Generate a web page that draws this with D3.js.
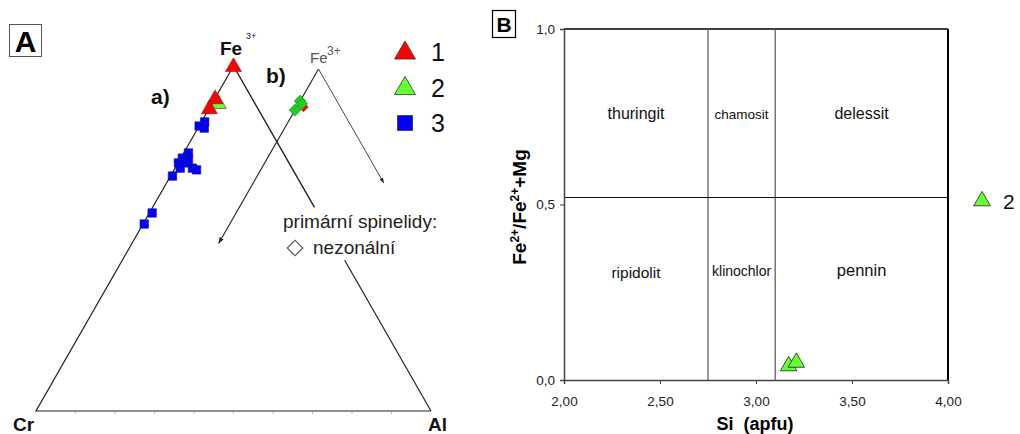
<!DOCTYPE html>
<html>
<head>
<meta charset="utf-8">
<script src="https://cdn.jsdelivr.net/npm/d3@7/dist/d3.min.js"></script>
<style>
  html, body { margin: 0; padding: 0; background: #fff; }
  svg { display: block; font-family: "Liberation Sans", Arial, Helvetica, sans-serif; }
</style>
</head>
<body>
<svg id="chart" width="1020" height="434"></svg>
<script>
// ---- Panel A: spinel ternary Fe3+ – Cr – Al (fractions of Fe3+ and Al; Cr is the remainder)
const seriesNames = ["1", "2", "3"];
const seriesColors = ["#ff0000", "#66ff33", "#0000ff"];

// a) full triangle
const a1Fe = [1.000, 0.907, 0.878];
const a1Al = [0.000, 0.000, 0.000];
const a2Fe = [0.893];
const a2Al = [0.015];
const a3Fe = [0.826, 0.838, 0.820, 0.733, 0.748, 0.719, 0.719, 0.728, 0.704, 0.699, 0.704, 0.681, 0.574, 0.542];
const a3Al = [0.000, 0.008, 0.016, 0.004, 0.012, 0.001, 0.019, 0.022, 0.044, 0.057, 0.013, 0.005, 0.007, 0.003];

// b) second triangle (primary spinels)
const b1Fe = [0.890];
const b1Al = [0.017];
const b2Fe = [0.907, 0.899, 0.881];
const b2Al = [0.000, 0.008, 0.000];

const baseTicks = d3.range(1, 10).map(d => d / 10);

// ---- Panel B: chlorite classification, Si (apfu) vs Fe2+/(Fe2++Mg)
const siValues = [3.17, 3.21];
const feRatio = [0.04, 0.05];
const xTicks = [2.0, 2.5, 3.0, 3.5, 4.0];
const yTicks = [0.0, 0.5, 1.0];
const siBounds = [2.75, 3.10];
const ratioBound = 0.52;
const fields = [
  { name: "thuringit", x0: 2.00, x1: 2.75, y: 0.745, size: 16 },
  { name: "chamosit", x0: 2.75, x1: 3.10, y: 0.745, size: 13.5 },
  { name: "delessit", x0: 3.10, x1: 4.00, y: 0.745, size: 16 },
  { name: "ripidolit", x0: 2.00, x1: 2.75, y: 0.29, size: 15.5 },
  { name: "klinochlor", x0: 2.75, x1: 3.10, y: 0.295, size: 14 },
  { name: "pennin", x0: 3.10, x1: 4.00, y: 0.295, size: 16.5 }
];

const svg = d3.select("#chart");

svg.append("defs").append("marker")
  .attr("id", "arrow").attr("viewBox", "0 0 10 10")
  .attr("refX", 9).attr("refY", 5)
  .attr("markerWidth", 6).attr("markerHeight", 6)
  .attr("orient", "auto")
  .append("path").attr("d", "M0,1.5L10,5L0,8.5Z").attr("fill", "#222");

// ===================== Panel A =====================
const gA = svg.append("g");

// panel letter
gA.append("rect").attr("x", 9.5).attr("y", 24.5).attr("width", 32).attr("height", 32)
  .attr("fill", "none").attr("stroke", "#555").attr("stroke-width", 1);
gA.append("text").attr("x", 25.5).attr("y", 52).attr("text-anchor", "middle")
  .attr("font-size", 30).attr("font-weight", "bold").text("A");

// ternary projections: horizontal scale along the base, vertical scale for Fe3+
function ternary(xBase, yFe) {
  return (fe, al) => [xBase(al + fe / 2), yFe(fe)];
}
const xBaseA = d3.scaleLinear().domain([0, 1]).range([36, 431]);
const yFeA = d3.scaleLinear().domain([0, 1]).range([411, 66]);
const projA = ternary(xBaseA, yFeA);

const xBaseB = d3.scaleLinear().domain([0, 1]).range([121, 516]);
const yFeB = d3.scaleLinear().domain([0, 1]).range([414, 69]);
const projB = ternary(xBaseB, yFeB);

const line = d3.line();

// triangle a) : left side, base, and right side split around the label
gA.append("path").attr("d", line([projA(1, 0), projA(0, 0), projA(0, 1)]))
  .attr("fill", "none").attr("stroke", "#222").attr("stroke-width", 1.2);
gA.append("path").attr("d", line([projA(1, 0), projA(0.59, 0.41)]))
  .attr("fill", "none").attr("stroke", "#222").attr("stroke-width", 1.4);
gA.append("path").attr("d", line([projA(0.437, 0.563), projA(0, 1)]))
  .attr("fill", "none").attr("stroke", "#222").attr("stroke-width", 1.2);

// small ticks on the base
gA.selectAll(".btick").data(baseTicks).enter().append("line")
  .attr("x1", d => projA(0, d)[0]).attr("x2", d => projA(0, d)[0])
  .attr("y1", yFeA(0) + 1).attr("y2", yFeA(0) + 3)
  .attr("stroke", "#bbb").attr("stroke-width", 1);

// triangle b) : two sides ending in arrows
gA.append("path").attr("d", line([projB(1, 0), projB(0.495, 0)]))
  .attr("fill", "none").attr("stroke", "#222").attr("stroke-width", 1.1)
  .attr("marker-end", "url(#arrow)");
gA.append("path").attr("d", line([projB(1, 0), projB(0.67, 0.33)]))
  .attr("fill", "none").attr("stroke", "#333").attr("stroke-width", 0.9)
  .attr("marker-end", "url(#arrow)");

// vertex labels
const vLab = (x, y, t, opts = {}) => gA.append("text").attr("x", x).attr("y", y)
  .attr("font-size", opts.size || 19).attr("font-weight", opts.weight || "bold")
  .attr("fill", opts.fill || "#111").attr("text-anchor", opts.anchor || "start").text(t);
vLab(13, 431, "Cr");
vLab(428, 431, "Al");
vLab(220, 55, "Fe");
vLab(246, 39, "3+", { size: 9, weight: "normal" });
vLab(310, 63, "Fe", { size: 15, weight: "normal", fill: "#555" });
vLab(327, 55, "3+", { size: 12, weight: "normal", fill: "#555" });
vLab(151, 104, "a)", { size: 21 });
vLab(266, 83, "b)", { size: 21 });

// primary spinel note
vLab(283, 228, "primární spinelidy:", { size: 19, weight: "normal", fill: "#222" });
gA.append("path").attr("d", d3.symbol(d3.symbolSquare, 120)())
  .attr("transform", "translate(295,248) rotate(45)")
  .attr("fill", "#fff").attr("stroke", "#555").attr("stroke-width", 1.2);
vLab(313, 254, "nezonální", { size: 19, weight: "normal", fill: "#222" });

const tri = (s) => d3.symbol(d3.symbolTriangle, s)();
const sq = (s) => d3.symbol(d3.symbolSquare, s)();

// points of triangle a)
const aPts = [
  ...a2Fe.map((f, i) => ({ p: projA(f, a2Al[i]), s: 1 })),
  ...a1Fe.map((f, i) => ({ p: projA(f, a1Al[i]), s: 0 })),
  ...a3Fe.map((f, i) => ({ p: projA(f, a3Al[i]), s: 2 }))
];
gA.selectAll(".ptA").data(aPts).enter().append("path")
  .attr("d", d => d.s === 2 ? sq(72) : tri(110))
  .attr("transform", d => `translate(${d.p[0]},${d.p[1] + (d.s === 2 ? 0 : 1)})`)
  .attr("fill", d => seriesColors[d.s])
  .attr("stroke", d => d.s === 2 ? "#1a1a80" : "#7a1a1a").attr("stroke-width", 0.6);

// points of triangle b) as diamonds
const bPts = [
  ...b1Fe.map((f, i) => ({ p: projB(f, b1Al[i]), s: 0 })),
  ...b2Fe.map((f, i) => ({ p: projB(f, b2Al[i]), s: 1 }))
];
gA.selectAll(".ptB").data(bPts).enter().append("path")
  .attr("d", d => sq(d.s === 0 ? 45 : 72))
  .attr("transform", d => `translate(${d.p[0]},${d.p[1]}) rotate(45)`)
  .attr("fill", d => d.s === 0 ? "#ff0000" : "#22cc22")
  .attr("stroke", d => d.s === 0 ? "#aa0000" : "#1a8a1a").attr("stroke-width", 0.5);

// legend
const legA = gA.append("g");
seriesNames.forEach((n, i) => {
  const cy = 52 + i * 35.5;
  legA.append("path").attr("d", i === 2 ? sq(225) : tri(190))
    .attr("transform", `translate(405,${cy + (i === 2 ? 0 : 1)})`)
    .attr("fill", seriesColors[i]).attr("stroke", "#333").attr("stroke-width", 0.8);
  legA.append("text").attr("x", 431).attr("y", cy + 9).attr("font-size", 25)
    .attr("fill", "#111").text(n);
});

// ===================== Panel B =====================
const gB = svg.append("g");
const x = d3.scaleLinear().domain([2, 4]).range([564, 948]);
const y = d3.scaleLinear().domain([0, 1]).range([380, 29]);
const comma = (d, p) => d.toFixed(p).replace(".", ",");

gB.append("rect").attr("x", 492.5).attr("y", 10.5).attr("width", 23).attr("height", 27)
  .attr("fill", "none").attr("stroke", "#000").attr("stroke-width", 1.2);
gB.append("text").attr("x", 504).attr("y", 32).attr("text-anchor", "middle")
  .attr("font-size", 21).attr("font-weight", "bold").text("B");

// plot frame
gB.append("line").attr("x1", x(2)).attr("x2", x(4)).attr("y1", y(1)).attr("y2", y(1))
  .attr("stroke", "#000").attr("stroke-width", 1.5);
gB.append("line").attr("x1", x(4)).attr("x2", x(4)).attr("y1", y(1)).attr("y2", y(0))
  .attr("stroke", "#000").attr("stroke-width", 2);

// field boundaries
gB.selectAll(".vb").data(siBounds).enter().append("line")
  .attr("x1", d => x(d)).attr("x2", d => x(d)).attr("y1", y(1)).attr("y2", y(0))
  .attr("stroke", "#555").attr("stroke-width", 1.2);
gB.append("line").attr("x1", x(2)).attr("x2", x(4)).attr("y1", y(ratioBound)).attr("y2", y(ratioBound))
  .attr("stroke", "#111").attr("stroke-width", 1.1);

// axes
const xAxis = d3.axisBottom(x).tickValues(xTicks).tickSize(4).tickPadding(12)
  .tickFormat(d => comma(d, 2));
const yAxis = d3.axisLeft(y).tickValues(yTicks).tickSize(4).tickPadding(5)
  .tickFormat(d => comma(d, 1));
const gx = gB.append("g").attr("transform", `translate(0,${y(0)})`).call(xAxis);
const gy = gB.append("g").attr("transform", `translate(${x(2)},0)`).call(yAxis);
[gx, gy].forEach(g => {
  g.select(".domain").attr("stroke", "#444").attr("stroke-width", 1.5);
  g.selectAll(".tick line").attr("stroke", "#444");
  g.selectAll(".tick text").attr("fill", "#222").attr("font-size", 13.5)
    .attr("font-family", "Liberation Sans, Arial, sans-serif");
});

// field names
gB.selectAll(".field").data(fields).enter().append("text")
  .attr("x", d => (x(d.x0) + x(d.x1)) / 2).attr("y", d => y(d.y))
  .attr("text-anchor", "middle").attr("font-size", d => d.size).attr("fill", "#111")
  .text(d => d.name);

// axis titles
gB.append("text").attr("x", 755).attr("y", 430).attr("text-anchor", "middle")
  .attr("font-size", 18).attr("font-weight", "bold").style("white-space", "pre")
  .text("Si\u00a0\u00a0(apfu)");
const yt = gB.append("text").attr("transform", "translate(526,207) rotate(-90)")
  .attr("text-anchor", "middle").attr("font-size", 19).attr("font-weight", "bold");
yt.append("tspan").text("Fe");
yt.append("tspan").attr("dy", -7).attr("font-size", 12).text("2+");
yt.append("tspan").attr("dy", 7).text("/Fe");
yt.append("tspan").attr("dy", -7).attr("font-size", 12).text("2+");
yt.append("tspan").attr("dy", 7).text("+Mg");

// data points
gB.selectAll(".ptC").data(siValues).enter().append("path")
  .attr("d", tri(120))
  .attr("transform", (d, i) => `translate(${x(d)},${y(feRatio[i])})`)
  .attr("fill", seriesColors[1]).attr("stroke", "#222").attr("stroke-width", 0.8);

// legend
gB.append("path").attr("d", tri(120)).attr("transform", "translate(982,201)")
  .attr("fill", seriesColors[1]).attr("stroke", "#222").attr("stroke-width", 0.8);
gB.append("text").attr("x", 1003).attr("y", 209).attr("font-size", 21).attr("fill", "#111").text("2");
</script>
</body>
</html>
